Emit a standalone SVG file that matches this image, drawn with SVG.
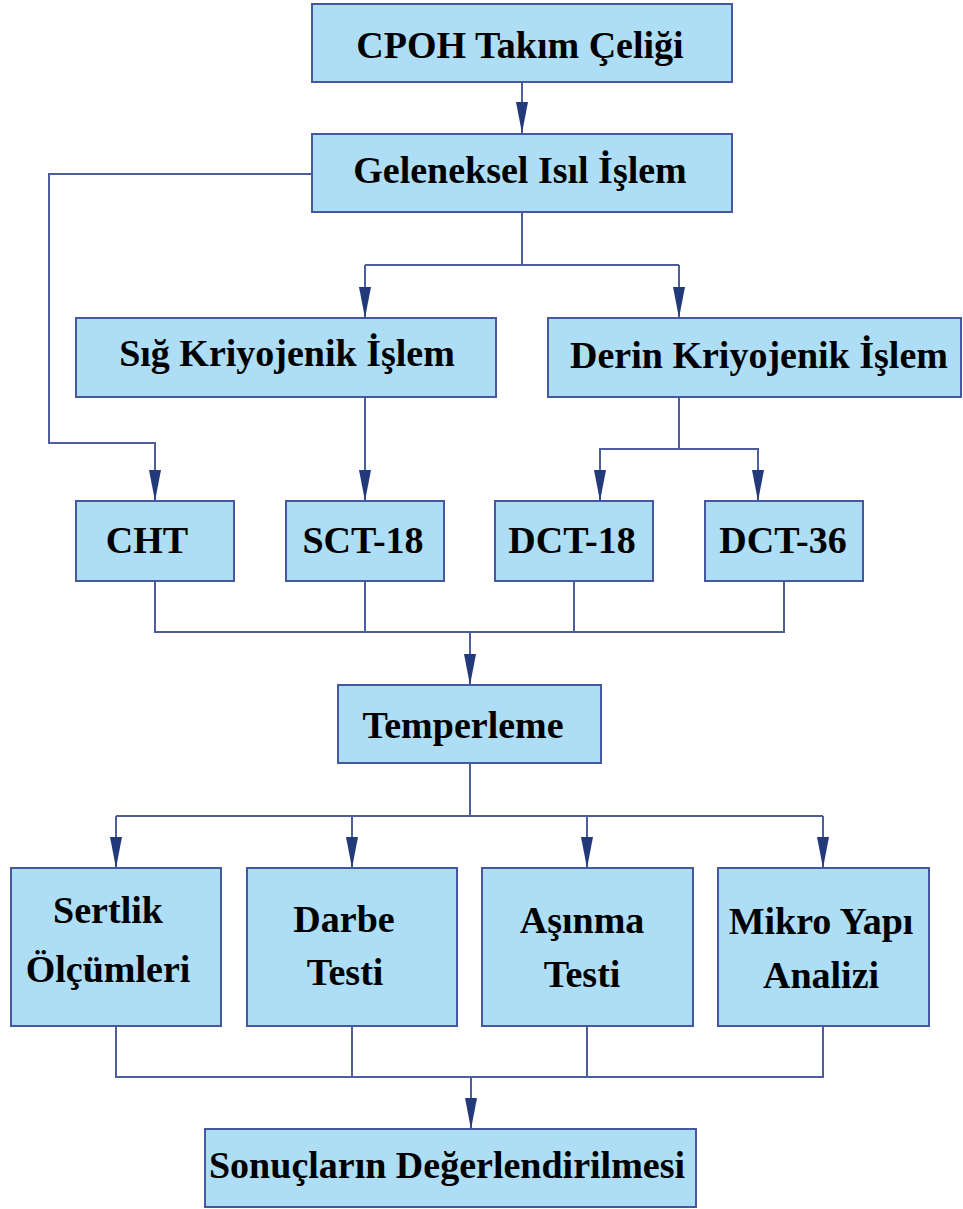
<svg xmlns="http://www.w3.org/2000/svg" width="963" height="1209" viewBox="0 0 963 1209">
<defs>
<style>
.box{fill:#AEDDF6;stroke:#4558A0;stroke-width:2}
.lbl{font-family:'Liberation Serif','DejaVu Serif',serif;font-weight:700;font-size:38px;fill:#000;text-anchor:middle}
.c{fill:none;stroke:#4E5D9C;stroke-width:2}
</style>
<marker id="ah" markerUnits="userSpaceOnUse" markerWidth="32" markerHeight="14" viewBox="0 -7 32 14" refX="31" refY="0" orient="auto">
<path d="M0,-6 L31,0 L0,6 z" fill="#233A7A"/>
</marker>
</defs>
<rect width="963" height="1209" fill="#fff"/>
<g id="connectors">
<path class="c" d="M522,82 V133" marker-end="url(#ah)"/>
<path class="c" d="M312,174 H49 V443 H155 V501" marker-end="url(#ah)"/>
<path class="c" d="M522,212 V265"/>
<path class="c" d="M365,265 H679"/>
<path class="c" d="M365,265 V318" marker-end="url(#ah)"/>
<path class="c" d="M679,265 V318" marker-end="url(#ah)"/>
<path class="c" d="M365,397 V501" marker-end="url(#ah)"/>
<path class="c" d="M679,397 V449 H600 V501" marker-end="url(#ah)"/>
<path class="c" d="M679,449 H758 V501" marker-end="url(#ah)"/>
<path class="c" d="M155,581 V632 H784 V581"/>
<path class="c" d="M365,581 V632"/>
<path class="c" d="M574,581 V632"/>
<path class="c" d="M470,632 V685" marker-end="url(#ah)"/>
<path class="c" d="M470,763 V816"/>
<path class="c" d="M116,816 H823"/>
<path class="c" d="M116,816 V868" marker-end="url(#ah)"/>
<path class="c" d="M352,816 V868" marker-end="url(#ah)"/>
<path class="c" d="M587,816 V868" marker-end="url(#ah)"/>
<path class="c" d="M823,816 V868" marker-end="url(#ah)"/>
<path class="c" d="M116,1026 V1077 H823 V1026"/>
<path class="c" d="M352,1026 V1077"/>
<path class="c" d="M587,1026 V1077"/>
<path class="c" d="M471,1077 V1129" marker-end="url(#ah)"/>
</g>
<g id="n-cpoh"><rect class="box" x="312" y="4" width="420" height="78"/><text class="lbl" x="520" y="58">CPOH Takım Çeliği</text></g>
<g id="n-geleneksel"><rect class="box" x="312" y="134" width="420" height="78"/><text class="lbl" x="520" y="183">Geleneksel Isıl İşlem</text></g>
<g id="n-sig"><rect class="box" x="76" y="318" width="420" height="79"/><text class="lbl" x="287" y="366">Sığ Kriyojenik İşlem</text></g>
<g id="n-derin"><rect class="box" x="548" y="318" width="413" height="79"/><text class="lbl" x="759" y="368">Derin Kriyojenik İşlem</text></g>
<g id="n-cht"><rect class="box" x="76" y="501" width="158" height="80"/><text class="lbl" x="147" y="553">CHT</text></g>
<g id="n-sct18"><rect class="box" x="286" y="501" width="158" height="80"/><text class="lbl" x="363" y="553">SCT-18</text></g>
<g id="n-dct18"><rect class="box" x="495" y="501" width="158" height="80"/><text class="lbl" x="572" y="553">DCT-18</text></g>
<g id="n-dct36"><rect class="box" x="705" y="501" width="158" height="80"/><text class="lbl" x="783" y="553">DCT-36</text></g>
<g id="n-temper"><rect class="box" x="338" y="685" width="263" height="78"/><text class="lbl" x="463" y="738">Temperleme</text></g>
<g id="n-sertlik"><rect class="box" x="11" y="868" width="210" height="158"/><text class="lbl" x="108" y="923">Sertlik</text><text class="lbl" x="108" y="982">Ölçümleri</text></g>
<g id="n-darbe"><rect class="box" x="247" y="868" width="210" height="158"/><text class="lbl" x="344" y="932">Darbe</text><text class="lbl" x="345" y="985">Testi</text></g>
<g id="n-asinma"><rect class="box" x="482" y="868" width="211" height="158"/><text class="lbl" x="582" y="933">Aşınma</text><text class="lbl" x="582" y="987">Testi</text></g>
<g id="n-mikro"><rect class="box" x="718" y="868" width="211" height="158"/><text class="lbl" x="821" y="934">Mikro Yapı</text><text class="lbl" x="821" y="988">Analizi</text></g>
<g id="n-sonuc"><rect class="box" x="205" y="1129" width="491" height="78"/><text class="lbl" x="447" y="1178">Sonuçların Değerlendirilmesi</text></g>
</svg>
